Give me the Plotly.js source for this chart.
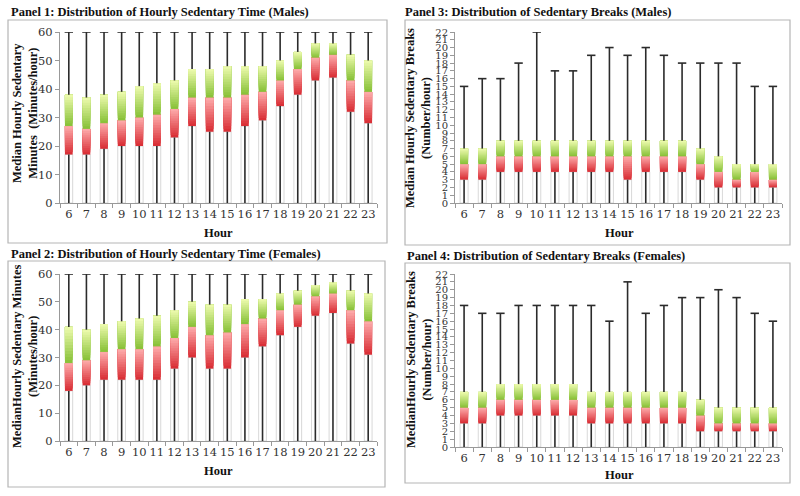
<!DOCTYPE html>
<html><head>
<script src="https://cdn.plot.ly/plotly-3.0.1.min.js"></script>
<style>body{margin:0;background:#fff}#chart{width:800px;height:496px}</style>
</head><body><div id="chart"></div><script>
const hours = ['6','7','8','9','10','11','12','13','14','15','16','17','18','19','20','21','22','23'];

// Panel 1: Hourly sedentary time, males (minutes/hour)
const maleTimeMin    = [0,0,0,0,0,0,0,0,0,0,0,0,0,0,0,0,0,0];
const maleTimeQ1     = [17,17,19,20,20,20,23,27,25,25,27,29,34,38,43,44,32,28];
const maleTimeMedian = [27,26,28,29,30,31,33,37,37,37,38,39,43,47,51,52,43,39];
const maleTimeQ3     = [38,37,38,39,41,42,43,47,47,48,48,48,50,53,56,56,52,50];
const maleTimeMax    = [60,60,60,60,60,60,60,60,60,60,60,60,60,60,60,60,60,60];

// Panel 2: Hourly sedentary time, females (minutes/hour)
const femaleTimeMin    = [0,0,0,0,0,0,0,0,0,0,0,0,0,0,0,0,0,0];
const femaleTimeQ1     = [18,20,22,22,22,22,26,30,26,26,30,34,38,41,45,46,35,31];
const femaleTimeMedian = [28,29,32,33,33,34,37,41,38,39,42,44,47,49,52,53,47,43];
const femaleTimeQ3     = [41,40,42,43,44,45,47,50,49,49,51,51,53,54,56,57,54,53];
const femaleTimeMax    = [60,60,60,60,60,60,60,60,60,60,60,60,60,60,60,60,60,60];

// Panel 3: Sedentary breaks, males (number/hour)
const maleBreakMin    = [0,0,0,0,0,0,0,0,0,0,0,0,0,0,0,0,0,0];
const maleBreakQ1     = [3,3,4,4,4,4,4,4,4,3,4,4,4,3,2,2,2,2];
const maleBreakMedian = [5,5,6,6,6,6,6,6,6,6,6,6,6,5,4,3,4,3];
const maleBreakQ3     = [7,7,8,8,8,8,8,8,8,8,8,8,8,7,6,5,5,5];
const maleBreakMax    = [15,16,16,18,22,17,17,19,20,19,20,19,18,18,18,18,15,15];

// Panel 4: Sedentary breaks, females (number/hour)
const femaleBreakMin    = [0,0,0,0,0,0,0,0,0,0,0,0,0,0,0,0,0,0];
const femaleBreakQ1     = [3,3,4,4,4,4,4,3,3,3,3,3,3,2,2,2,2,2];
const femaleBreakMedian = [5,5,6,6,6,6,6,5,5,5,5,5,5,4,3,3,3,3];
const femaleBreakQ3     = [7,7,8,8,8,8,8,7,7,7,7,7,7,6,5,5,5,5];
const femaleBreakMax    = [18,17,17,18,18,18,18,18,16,21,17,18,19,19,20,19,17,16];

const W = 800, H = 496;
const px = v => v / W;
const py = v => 1 - v / H;

const N = 12; // gradient steps
function lerp(a, b, t){ return a + (b - a) * t; }
function mix(c1, c2, t){
  return 'rgb(' + [0,1,2].map(i => Math.round(lerp(c1[i], c2[i], t))).join(',') + ')';
}
const redBottom = [218, 48, 55], redTop = [252, 168, 168];
const greenBottom = [138, 194, 58], greenTop = [234, 249, 170];
const barWidth = 0.44;

const traces = [];
function panel(xa, ya, mn, q1, med, q3, mx){
  // base (shadow outline) from min to Q1
  traces.push({type:'bar', x:hours, y:q1.map((v,i)=>v-mn[i]), base:mn, xaxis:xa, yaxis:ya,
    width:barWidth, marker:{color:'rgba(0,0,0,0)', line:{color:'rgba(200,200,200,0.7)', width:1}},
    hoverinfo:'skip', showlegend:false});
  // red segment Q1 -> median, gradient (each layer spans to the segment top, later layers paint over)
  for(let k=0;k<N;k++){
    traces.push({type:'bar', x:hours, xaxis:xa, yaxis:ya, width:barWidth,
      base:q1.map((v,i)=>v+(med[i]-v)*k/N),
      y:q1.map((v,i)=>(med[i]-v)*(N-k)/N),
      marker:{color:mix(redBottom, redTop, k/(N-1)), line:{width:0}},
      hoverinfo:'skip', showlegend:false});
  }
  // green segment median -> Q3, gradient
  for(let k=0;k<N;k++){
    traces.push({type:'bar', x:hours, xaxis:xa, yaxis:ya, width:barWidth,
      base:med.map((v,i)=>v+(q3[i]-v)*k/N),
      y:med.map((v,i)=>(q3[i]-v)*(N-k)/N),
      marker:{color:mix(greenBottom, greenTop, k/(N-1)), line:{width:0}},
      hoverinfo:'skip', showlegend:false});
  }
  // whiskers
  const wx = [], wy = [];
  hours.forEach((h,i)=>{
    wx.push(h,h,null,h,h,null);
    wy.push(mn[i],q1[i],null,q3[i],mx[i],null);
  });
  traces.push({type:'scatter', mode:'lines', x:wx, y:wy, xaxis:xa, yaxis:ya,
    line:{color:'#2b2b2b', width:1.6}, connectgaps:false, hoverinfo:'skip', showlegend:false});
  // caps
  traces.push({type:'scatter', mode:'markers', x:hours, y:mx, xaxis:xa, yaxis:ya,
    marker:{symbol:'line-ew', size:6, line:{color:'#2b2b2b', width:1.6}},
    hoverinfo:'skip', showlegend:false});
}
panel('x','y', maleTimeMin, maleTimeQ1, maleTimeMedian, maleTimeQ3, maleTimeMax);
panel('x2','y2', femaleTimeMin, femaleTimeQ1, femaleTimeMedian, femaleTimeQ3, femaleTimeMax);
panel('x3','y3', maleBreakMin, maleBreakQ1, maleBreakMedian, maleBreakQ3, maleBreakMax);
panel('x4','y4', femaleBreakMin, femaleBreakQ1, femaleBreakMedian, femaleBreakQ3, femaleBreakMax);

const tickFont = {family:'DejaVu Serif', size:11.5, color:'#333'};
const smallTickFont = {family:'DejaVu Serif', size:10, color:'#333'};
function xAxis(anchor, l, r){
  return {domain:[px(l), px(r)], anchor:anchor, type:'category', range:[-0.5,17.5],
    showline:true, linecolor:'#999', linewidth:1, ticks:'outside', ticklen:4, tickcolor:'#999',
    tickson:'boundaries', tickangle:0, showgrid:false, zeroline:false, tickfont:tickFont, fixedrange:true};
}
function yAxis(anchor, top, bottom, maxV, dt, font){
  return {domain:[py(bottom), py(top)], anchor:anchor, range:[0,maxV], dtick:dt,
    showline:true, linecolor:'#999', linewidth:1, ticks:'outside', ticklen:4, tickcolor:'#999',
    showgrid:false, zeroline:false, tickfont:font, fixedrange:true};
}

const titleFont = {family:'Liberation Serif', size:12.5, color:'#111', weight:'bold'};
const axTitleFont = {family:'Liberation Serif', size:12.5, color:'#111', weight:'bold'};
function ann(text, x, y, opts){
  return Object.assign({text:text, x:px(x), y:py(y), xref:'paper', yref:'paper', showarrow:false,
    xanchor:'left', yanchor:'middle', font:titleFont}, opts||{});
}
const annotations = [
  ann('<b>Panel 1: Distribution of Hourly Sedentary Time (Males)</b>', 9, 12),
  ann('<b>Panel 2: Distribution of Hourly Sedentary Time (Females)</b>', 9, 254),
  ann('<b>Panel 3: Distribution of Sedentary Breaks (Males)</b>', 403, 12),
  ann('<b>Panel 4: Distribution of Sedentary Breaks (Females)</b>', 405, 256),
  ann('<b>Hour</b>', 218, 233, {xanchor:'center', font:axTitleFont}),
  ann('<b>Hour</b>', 218, 471, {xanchor:'center', font:axTitleFont}),
  ann('<b>Hour</b>', 619, 233, {xanchor:'center', font:axTitleFont}),
  ann('<b>Hour</b>', 619, 475, {xanchor:'center', font:axTitleFont}),
  ann('<b>Median Hourly Sedentary<br>Minutes  (Minutes/hour)</b>', 25, 113, {xanchor:'center', textangle:-90, font:axTitleFont}),
  ann('<b>MedianHourly Sedentary Minutes<br>(Minutes/hour)</b>', 25, 357, {xanchor:'center', textangle:-90, font:axTitleFont}),
  ann('<b>Median Hourly Sedentary Breaks<br>(Number/hour)</b>', 418, 118, {xanchor:'center', textangle:-90, font:axTitleFont}),
  ann('<b>MedianHourly Sedentary Breaks<br>(Number/hour)</b>', 419, 360, {xanchor:'center', textangle:-90, font:axTitleFont})
];

function box(x0,y0,x1,y1){
  return {type:'rect', xref:'paper', yref:'paper', x0:px(x0), x1:px(x1), y0:py(y1), y1:py(y0),
    line:{color:'#b5b5b5', width:1.2}, fillcolor:'rgba(0,0,0,0)', layer:'below'};
}

const layout = {
  width:W, height:H, margin:{l:0,r:0,t:0,b:0}, paper_bgcolor:'#fff', plot_bgcolor:'rgba(0,0,0,0)',
  barmode:'overlay', showlegend:false,
  xaxis: xAxis('y', 60, 377),   yaxis: yAxis('x', 32, 203, 60, 10, tickFont),
  xaxis2: xAxis('y2', 60, 377), yaxis2: yAxis('x2', 274, 441, 60, 10, tickFont),
  xaxis3: xAxis('y3', 455, 782), yaxis3: yAxis('x3', 32, 203, 22, 1, smallTickFont),
  xaxis4: xAxis('y4', 455, 782), yaxis4: yAxis('x4', 274, 447, 22, 1, smallTickFont),
  annotations: annotations,
  shapes: [box(8,20,387,243), box(8,261,385,487), box(405,20,790,245), box(405,263,790,483)]
};

Plotly.newPlot('chart', traces, layout, {displayModeBar:false, staticPlot:true});
</script></body></html>
